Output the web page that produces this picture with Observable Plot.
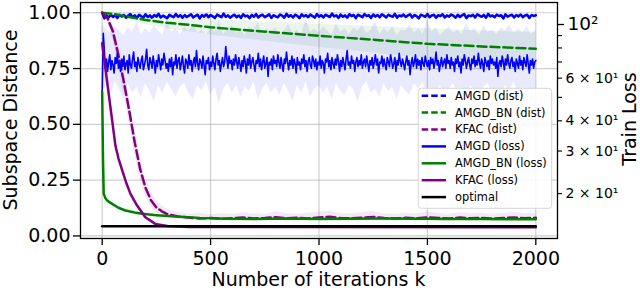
<!DOCTYPE html>
<html>
<head>
<meta charset="utf-8">
<script src="https://cdn.jsdelivr.net/npm/d3@7"></script>
<script src="https://cdn.jsdelivr.net/npm/@observablehq/plot@0.6"></script>
<style>
  html, body { margin: 0; padding: 0; background: #fff; }
  #chart { width: 640px; height: 290px; }
  svg { display: block; }
</style>
</head>
<body>
<div id="chart"></div>
<script>
// ---------------- data ----------------
const xTicks = [0, 500, 1000, 1500, 2000];
const yTicks = [0, 0.25, 0.5, 0.75, 1.0];
const lossMajorTicks = [100];
const lossMajorLabels = ["10²"];
const lossLabeledMinor = [60, 40, 30, 20];
const lossLabeledMinorText = ["6 × 10¹", "4 × 10¹", "3 × 10¹", "2 × 10¹"];
const lossUnlabeledMinor = [90, 80, 70, 50];

const seriesNames = ["AMGD (dist)", "AMGD_BN (dist)", "KFAC (dist)", "AMGD (loss)", "AMGD_BN (loss)", "KFAC (loss)", "optimal"];

// AMGD train loss, every 5 iterations (0..2000)
const lossStep = 5;
const amgdLoss = [
  52.6, 92, 78, 66, 72, 64, 70, 75, 65, 71, 68, 63, 73, 69, 76, 66, 70, 64, 72, 67,
  74, 65, 69, 71, 63, 75, 68, 66, 72, 77, 67, 70, 64, 73, 69, 66, 71, 74, 65, 68,
  72, 79, 68, 65, 73, 70, 66, 74, 69, 63, 71, 67, 75, 70, 65, 72, 68, 76, 71, 66,
  69, 64, 72, 67, 73, 62, 70, 68, 75, 66, 71, 73, 65, 69, 74, 67, 63, 72, 70, 66,
  75, 68, 71, 64, 70, 73, 67, 78, 69, 65, 72, 70, 66, 74, 68, 62, 71, 69, 73, 65,
  70, 67, 74, 69, 65, 72, 76, 68, 71, 64, 69, 73, 67, 70, 81, 72, 66, 74, 69, 71,
  65, 72, 68, 75, 70, 66, 73, 69, 64, 71, 67, 74, 70, 63, 72, 68, 75, 66, 70, 73,
  68, 64, 71, 69, 76, 67, 72, 65, 70, 74, 66, 69, 73, 61, 70, 68, 72, 65, 74, 69,
  71, 67, 75, 70, 66, 73, 68, 64, 72, 69, 77, 70, 65, 71, 68, 74, 66, 72, 69, 63,
  73, 68, 70, 65, 72, 69, 75, 67, 71, 64, 70, 73, 68, 66, 74, 71, 67, 72, 65, 70,
  68, 74, 66, 71, 69, 63, 72, 70, 76, 67, 71, 65, 73, 69, 66, 72, 68, 75, 70, 64,
  71, 67, 73, 69, 65, 72, 78, 68, 70, 66, 74, 69, 71, 64, 70, 73, 67, 71, 68, 75,
  66, 70, 72, 67, 74, 69, 64, 71, 68, 73, 66, 70, 75, 68, 72, 63, 70, 69, 74, 67,
  72, 68, 65, 73, 70, 67, 75, 71, 66, 69, 73, 64, 71, 68, 76, 70, 67, 72, 69, 65,
  70, 74, 68, 71, 62, 69, 73, 67, 70, 75, 66, 72, 68, 71, 65, 73, 69, 67, 74, 70,
  67, 71, 65, 73, 69, 72, 66, 70, 77, 68, 71, 64, 69, 73, 67, 70, 72, 66, 75, 69,
  71, 66, 73, 68, 70, 64, 72, 69, 74, 67, 70, 63, 72, 68, 75, 71, 66, 70, 73, 68,
  65, 72, 69, 74, 67, 71, 68, 76, 70, 66, 72, 69, 64, 73, 70, 67, 71, 65, 74, 69,
  72, 68, 70, 66, 73, 61, 69, 71, 67, 74, 70, 65, 72, 68, 75, 69, 66, 71, 73, 67,
  70, 64, 72, 69, 66, 74, 68, 71, 65, 73, 70, 67, 75, 69, 63, 71, 68, 72, 66, 70,
  71
];
// AMGD subspace distance, every 10 iterations (0..2000)
const distStep = 10;
const amgdDist = [
  1.0, 0.975, 0.988, 0.979, 0.992, 0.981, 0.989, 0.977, 0.991, 0.983,
  0.99, 0.978, 0.987, 0.994, 0.98, 0.988, 0.976, 0.991, 0.984, 0.979,
  0.993, 0.981, 0.988, 0.977, 0.99, 0.983, 0.995, 0.979, 0.987, 0.982,
  0.976, 0.991, 0.985, 0.98, 0.994, 0.982, 0.989, 0.978, 0.99, 0.981,
  0.987, 0.993, 0.979, 0.986, 0.991, 0.975, 0.989, 0.983, 0.994, 0.98,
  0.99, 0.984, 0.977, 0.992, 0.986, 0.98, 0.996, 0.982, 0.988, 0.978,
  0.986, 0.991, 0.98, 0.989, 0.977, 0.993, 0.984, 0.987, 0.976, 0.99,
  0.982, 0.994, 0.979, 0.988, 0.991, 0.98, 0.986, 0.993, 0.977, 0.989,
  0.984, 0.98, 0.992, 0.987, 0.978, 0.995, 0.983, 0.989, 0.979, 0.991,
  0.986, 0.976, 0.993, 0.984, 0.989, 0.98, 0.992, 0.985, 0.978, 0.994,
  0.983, 0.989, 0.979, 0.991, 0.986, 0.981, 0.996, 0.984, 0.988, 0.977,
  0.992, 0.982, 0.988, 0.978, 0.993, 0.985, 0.99, 0.976, 0.991, 0.986,
  0.98, 0.994, 0.985, 0.989, 0.977, 0.992, 0.983, 0.99, 0.98, 0.993,
  0.987, 0.979, 0.991, 0.986, 0.982, 0.995, 0.978, 0.989, 0.984, 0.992,
  0.981, 0.988, 0.993, 0.979, 0.99, 0.985, 0.975, 0.991, 0.987, 0.982,
  0.994, 0.98, 0.988, 0.991, 0.978, 0.989, 0.985, 0.993, 0.979, 0.988,
  0.983, 0.992, 0.987, 0.977, 0.991, 0.981, 0.989, 0.994, 0.976, 0.988,
  0.985, 0.991, 0.979, 0.993, 0.987, 0.982, 0.99, 0.978, 0.995, 0.984,
  0.988, 0.98, 0.992, 0.985, 0.989, 0.975, 0.993, 0.983, 0.988, 0.991,
  0.979, 0.99, 0.984, 0.993, 0.98, 0.988, 0.991, 0.977, 0.99, 0.986,
  0.989
];
// AMGD loss spread band, every 20 iterations
const bandStep = 20;
const amgdLossHi = [
  100, 95, 92, 98, 94, 90, 97, 93, 103, 91,
  96, 92, 99, 94, 90, 105, 93, 96, 91, 98,
  94, 101, 92, 95, 90, 97, 93, 104, 91, 96,
  99, 92, 94, 90, 98, 95, 102, 91, 96, 93,
  97, 90, 94, 100, 92, 95, 91, 106, 93, 96,
  92, 98, 94, 90, 101, 93, 96, 91, 97, 94,
  99, 92, 95, 103, 91, 96, 93, 98, 90, 95,
  94, 100, 92, 96, 91, 105, 93, 97, 90, 94,
  98, 92, 95, 91, 102, 94, 96, 90, 99, 93,
  95, 91, 97, 94, 100, 92, 96, 93, 98, 91,
  95
];
const amgdLossLo = [
  53, 56, 51, 58, 54, 49, 57, 52, 55, 50,
  57, 53, 48, 56, 52, 58, 54, 50, 55, 57,
  52, 49, 56, 53, 58, 51, 55, 47, 54, 57,
  52, 56, 50, 55, 53, 58, 49, 54, 57, 52,
  55, 51, 57, 53, 48, 56, 52, 58, 50, 54,
  56, 52, 55, 49, 57, 53, 51, 56, 54, 48,
  55, 58, 52, 54, 50, 57, 53, 55, 49, 56,
  53, 51, 57, 54, 58, 50, 55, 52, 56, 49,
  54, 57, 52, 55, 50, 56, 53, 48, 55, 57,
  52, 54, 50, 56, 53, 58, 51, 55, 52, 54,
  53
];

// AMGD_BN
const bnDistIter = [0, 50, 100, 200, 300, 430, 500, 600, 800, 1000, 1250, 1500, 1750, 2000];
const bnDist     = [1.0, 0.995, 0.985, 0.968, 0.955, 0.943, 0.935, 0.927, 0.912, 0.897, 0.879, 0.861, 0.849, 0.839];
const bnDistHi   = [1.0, 1.0, 0.998, 0.99, 0.982, 0.974, 0.97, 0.965, 0.957, 0.948, 0.938, 0.928, 0.918, 0.912];
const bnDistLo   = [1.0, 0.99, 0.972, 0.946, 0.928, 0.912, 0.9, 0.889, 0.867, 0.846, 0.82, 0.794, 0.78, 0.766];
const bnLossIter = [0, 2, 4, 7, 15, 25, 46, 75, 107, 150, 184, 250, 338, 450, 568, 700, 850, 1000, 1150, 1300, 1450, 1600, 1750, 1900, 2000];
const bnLoss     = [52.6, 38, 27, 20.0, 19.15, 18.66, 18.15, 17.48, 17.03, 16.7, 16.5, 16.3, 16.09, 15.88, 15.75, 15.72, 15.78, 15.7, 15.74, 15.8, 15.76, 15.7, 15.72, 15.68, 15.66];

// KFAC
const kfacDistIter = [0, 25, 50, 75, 100, 125, 150, 175, 200, 225, 250, 275, 300, 350,
  400, 450, 500, 550, 600, 650, 700, 750, 800, 850, 900, 950, 1000, 1050, 1100, 1150, 1200,
  1250, 1300, 1350, 1400, 1450, 1500, 1550, 1600, 1650, 1700, 1750, 1800, 1850, 1900, 1950, 2000];
const kfacDist = [1.0, 0.975, 0.915, 0.81, 0.69, 0.56, 0.42, 0.3, 0.215, 0.16, 0.128, 0.11, 0.098, 0.087,
  0.082, 0.078, 0.08, 0.077, 0.079, 0.082, 0.078, 0.08, 0.084, 0.079, 0.081, 0.078, 0.083, 0.086, 0.08, 0.079, 0.082,
  0.085, 0.08, 0.078, 0.081, 0.079, 0.083, 0.08, 0.078, 0.082, 0.079, 0.081, 0.077, 0.08, 0.083, 0.079, 0.081];
const kfacDistHi = [1.0, 0.99, 0.95, 0.86, 0.75, 0.62, 0.48, 0.36, 0.26, 0.2, 0.16, 0.135, 0.12, 0.105,
  0.098, 0.102, 0.095, 0.1, 0.097, 0.104, 0.099, 0.096, 0.108, 0.1, 0.097, 0.101, 0.106, 0.11, 0.1, 0.098, 0.104,
  0.108, 0.099, 0.097, 0.102, 0.098, 0.107, 0.1, 0.096, 0.104, 0.099, 0.101, 0.097, 0.1, 0.106, 0.098, 0.102];
const kfacDistLo = [1.0, 0.955, 0.875, 0.76, 0.63, 0.5, 0.37, 0.25, 0.175, 0.13, 0.105, 0.09, 0.082, 0.074,
  0.068, 0.066, 0.069, 0.066, 0.067, 0.07, 0.066, 0.068, 0.07, 0.067, 0.069, 0.066, 0.07, 0.072, 0.068, 0.067, 0.07,
  0.071, 0.068, 0.066, 0.069, 0.067, 0.07, 0.068, 0.066, 0.07, 0.067, 0.069, 0.066, 0.068, 0.07, 0.067, 0.069];
const kfacLossIter = [0, 20, 40, 61, 75, 92, 110, 130, 161, 199, 245, 300, 400, 2000];
const kfacLoss     = [83.6, 60.7, 44.2, 31.6, 28.0, 25.0, 22.3, 20.0, 17.85, 15.98, 15.0, 14.7, 14.55, 14.52];

const optimalIter = [0, 2000];
const optimalLoss = [14.67, 14.67];

// ---------------- layout ----------------
const W = 640, H = 290;
const mLeft = 80, mRight = 83, mTop = 2, mBottom = 52;
const xDomain = [-100, 2100];
const yDomain = [-0.0116, 1.046];
const lossDomain = [13.05, 123.3];
const font = "DejaVu Sans";
const colors = {blue: "#0000ff", green: "#008000", purple: "#800080", black: "#000000"};

// twin (right, log) axis mapped into the left axis units
const yPx = d3.scaleLinear(yDomain, [H - mBottom, mTop]);
const lossPx = d3.scaleLog(lossDomain, [H - mBottom, mTop]);
const toLeft = L => yPx.invert(lossPx(L));

const dense = (arr, step) => arr.map((v, i) => ({i: i * step, v}));
const pairs = (xs, vs) => xs.map((x, k) => ({i: x, v: vs[k]}));
const band = (xs, lo, hi) => xs.map((x, k) => ({i: x, lo: lo[k], hi: hi[k]}));

const amgdLossData = dense(amgdLoss, lossStep).map(d => ({i: d.i, v: toLeft(d.v)}));
const amgdDistData = dense(amgdDist, distStep);
const amgdBandData = amgdLossHi.map((h, k) => ({i: k * bandStep, lo: toLeft(amgdLossLo[k]), hi: toLeft(h)}));
const bnDistData = pairs(bnDistIter, bnDist);
const bnBandData = band(bnDistIter, bnDistLo, bnDistHi);
const bnLossData = pairs(bnLossIter, bnLoss.map(toLeft));
const kfacDistData = pairs(kfacDistIter, kfacDist);
const kfacBandData = band(kfacDistIter, kfacDistLo, kfacDistHi);
const kfacLossData = pairs(kfacLossIter, kfacLoss.map(toLeft));
const optimalData = pairs(optimalIter, optimalLoss.map(toLeft));

const majorL = lossMajorTicks.map(toLeft);
const minorL = lossLabeledMinor.map(toLeft);
const minorU = lossUnlabeledMinor.map(toLeft);
const minorLabelMap = new Map(minorL.map((v, k) => [v, lossLabeledMinorText[k]]));
const majorLabelMap = new Map(majorL.map((v, k) => [v, lossMajorLabels[k]]));

const dash = "9,4";
const chart = Plot.plot({
  width: W, height: H,
  marginLeft: mLeft, marginRight: mRight, marginTop: mTop, marginBottom: mBottom,
  style: {fontFamily: font, background: "white", color: "black"},
  x: {domain: xDomain},
  y: {domain: yDomain},
  marks: [
    Plot.gridX(xTicks, {stroke: "#b0b0b0", strokeOpacity: 0.6, strokeWidth: 1.2}),
    Plot.gridY(yTicks, {stroke: "#b0b0b0", strokeOpacity: 0.6, strokeWidth: 1.2}),
    Plot.areaY(amgdBandData, {x: "i", y1: "lo", y2: "hi", fill: colors.blue, fillOpacity: 0.085}),
    Plot.areaY(bnBandData, {x: "i", y1: "lo", y2: "hi", fill: colors.green, fillOpacity: 0.08}),
    Plot.areaY(kfacBandData, {x: "i", y1: "lo", y2: "hi", fill: colors.purple, fillOpacity: 0.09}),
    Plot.line(amgdDistData, {x: "i", y: "v", stroke: colors.blue, strokeWidth: 2.6, strokeDasharray: "14,1.5"}),
    Plot.line(bnDistData, {x: "i", y: "v", stroke: colors.green, strokeWidth: 2.5, strokeDasharray: dash}),
    Plot.line(kfacDistData, {x: "i", y: "v", stroke: colors.purple, strokeWidth: 2.5, strokeDasharray: dash}),
    Plot.line(amgdLossData, {x: "i", y: "v", stroke: colors.blue, strokeWidth: 1.6}),
    Plot.line(bnLossData, {x: "i", y: "v", stroke: colors.green, strokeWidth: 2.5}),
    Plot.line(kfacLossData, {x: "i", y: "v", stroke: colors.purple, strokeWidth: 2.5}),
    Plot.line(optimalData, {x: "i", y: "v", stroke: colors.black, strokeWidth: 2.5}),
    Plot.frame({stroke: "black", strokeWidth: 1.3}),
    Plot.axisX(xTicks, {anchor: "bottom", tickSize: 7, tickPadding: 6, fontSize: 19, strokeWidth: 1.3, label: null, tickFormat: d => String(d)}),
    Plot.axisY(yTicks, {anchor: "left", tickSize: 7, tickPadding: 3, fontSize: 19, strokeWidth: 1.3, label: null, tickFormat: d3.format(".2f")}),
    Plot.axisY(majorL, {anchor: "right", tickSize: 6, tickPadding: 4, fontSize: 18.5, strokeWidth: 1.3, label: null, tickFormat: d => majorLabelMap.get(d)}),
    Plot.axisY(minorL, {anchor: "right", tickSize: 4, tickPadding: 4, fontSize: 14, strokeWidth: 1.1, label: null, tickFormat: d => minorLabelMap.get(d)}),
    Plot.axisY(minorU, {anchor: "right", tickSize: 4, strokeWidth: 1.1, label: null, tickFormat: () => ""})
  ]
});
document.getElementById("chart").appendChild(chart);

// axis titles and legend
const svg = d3.select(chart);
const titleSize = 19;
svg.append("text").attr("x", (mLeft + W - mRight) / 2).attr("y", 285.5)
  .attr("text-anchor", "middle").attr("font-family", font).attr("font-size", titleSize)
  .attr("fill", "black").text("Number of iterations k");
svg.append("text").attr("transform", "translate(17,120) rotate(-90)")
  .attr("text-anchor", "middle").attr("font-family", font).attr("font-size", titleSize)
  .attr("fill", "black").text("Subspace Distance");
svg.append("text").attr("transform", "translate(636,119) rotate(-90)")
  .attr("text-anchor", "middle").attr("font-family", font).attr("font-size", titleSize)
  .attr("fill", "black").text("Train Loss");

const legendStyles = [
  {c: colors.blue, d: true}, {c: colors.green, d: true}, {c: colors.purple, d: true},
  {c: colors.blue, d: false}, {c: colors.green, d: false}, {c: colors.purple, d: false},
  {c: colors.black, d: false}
];
const lg = svg.append("g");
lg.append("rect").attr("x", 418.3).attr("y", 88.3).attr("width", 133.4).attr("height", 120)
  .attr("rx", 3).attr("fill", "white").attr("fill-opacity", 0.85)
  .attr("stroke", "#d6d6d6").attr("stroke-width", 1);
seriesNames.forEach((name, k) => {
  const cy = 95.7 + k * 16.9;
  lg.append("line").attr("x1", 421.7).attr("x2", 446).attr("y1", cy).attr("y2", cy)
    .attr("stroke", legendStyles[k].c).attr("stroke-width", 2.5)
    .attr("stroke-dasharray", legendStyles[k].d ? "6.5,3" : null);
  lg.append("text").attr("x", 455).attr("y", cy).attr("dy", "0.35em")
    .attr("text-anchor", "start")
    .attr("font-family", font).attr("font-size", 11.4).attr("fill", "black").text(name);
});
</script>
</body>
</html>
